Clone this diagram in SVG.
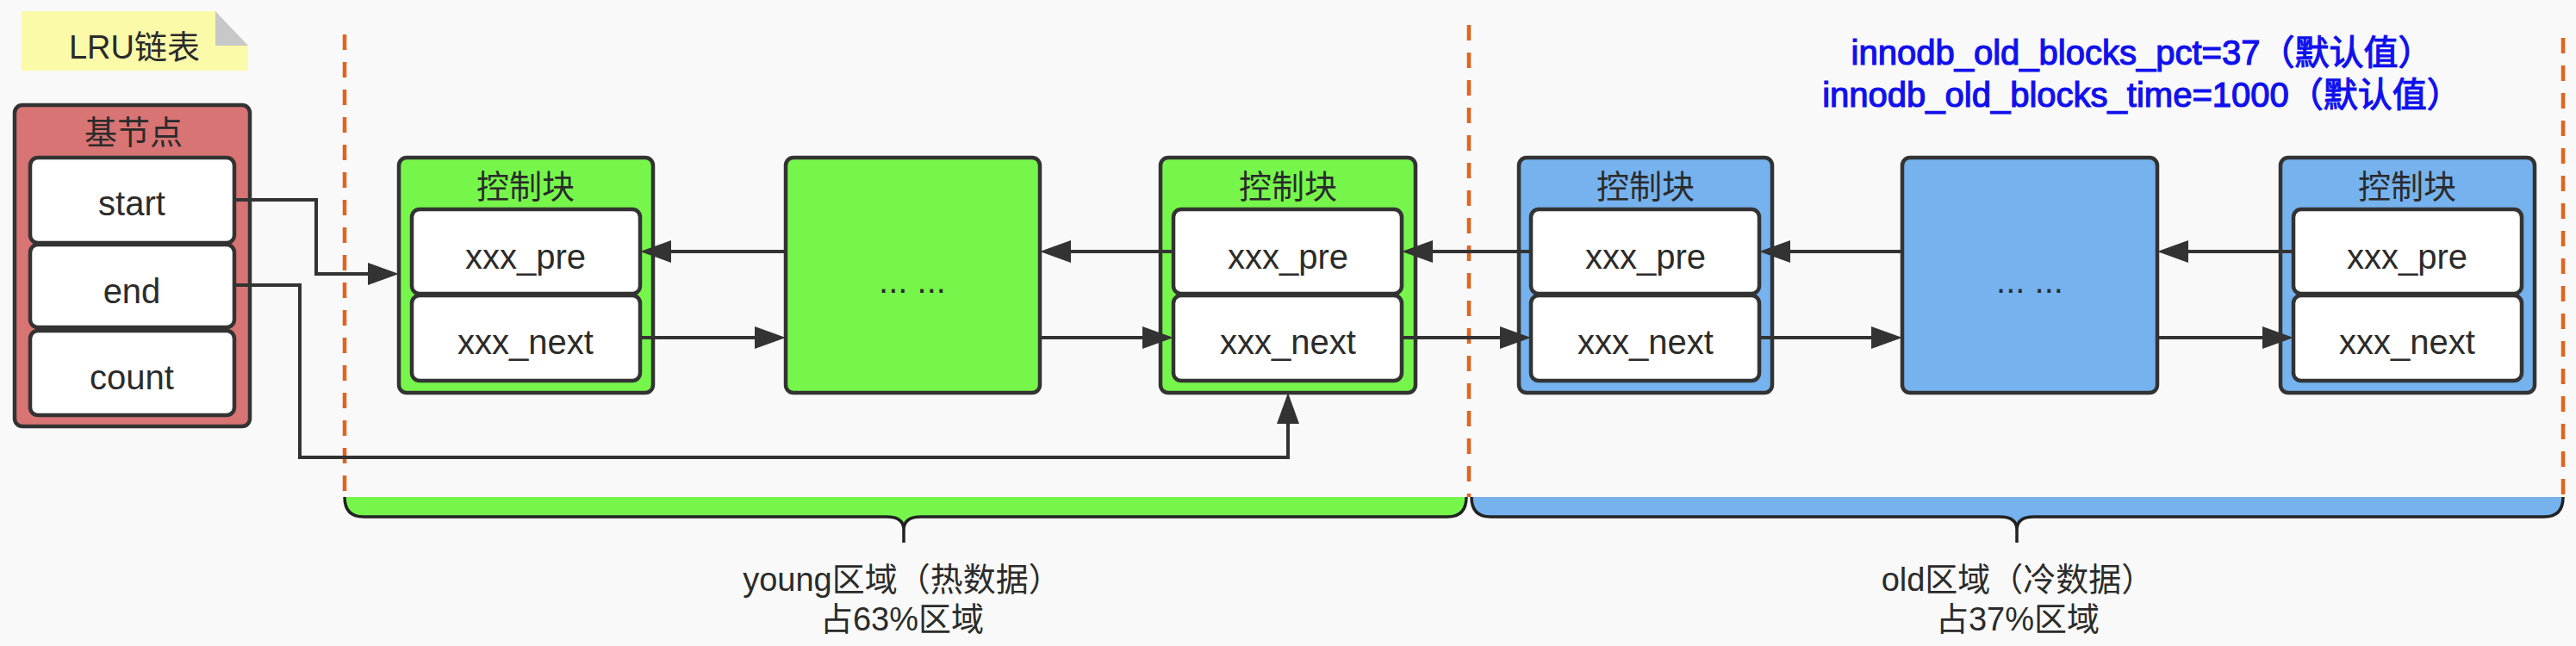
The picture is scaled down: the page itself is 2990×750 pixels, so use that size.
<svg xmlns="http://www.w3.org/2000/svg" width="2990" height="750" viewBox="0 0 2990 750">
<defs>
<style>
text{font-family:"Liberation Sans","Noto Sans CJK SC",sans-serif;fill:#2b2b2b;text-anchor:middle}
.lbl{font-size:40px}
.ttl{font-size:38px}
.outer{stroke:#333;stroke-width:4.5}
.green{fill:#76f64b}
.blue{fill:#75b2ee}
.red{fill:#d87474}
.inner{fill:#fff;stroke:#333;stroke-width:4.5}
.conn{fill:none;stroke:#333;stroke-width:4}
.dash{stroke:#e0631f;stroke-width:4.5;stroke-dasharray:18 14;fill:none}
.brace{fill:none;stroke:#222;stroke-width:3.5}
.param{font-size:40px;fill:#1010ee;stroke:#1010ee;stroke-width:1.2}
.zone{font-size:38px}
</style>
<marker id="arr" markerUnits="userSpaceOnUse" markerWidth="36" markerHeight="26" refX="6" refY="13" orient="auto">
<path d="M0,0 L36,13 L0,26 Z" fill="#333"/>
</marker>
</defs>
<rect width="2990" height="750" fill="#f9f9f9"/>

<g id="note">
<polygon points="25,13 250,13 288,53 288,82 25,82" fill="#fafaa8"/>
<polygon points="250,13 250,53 288,53" fill="#c8c8c8"/>
<text x="156" y="68" style="font-size:38px">LRU链表</text>
</g>

<g id="region-lines">
<line class="dash" x1="400" y1="40" x2="400" y2="577"/>
<line class="dash" x1="1705" y1="29" x2="1705" y2="577"/>
<line class="dash" x1="2975" y1="44" x2="2975" y2="577"/>
</g>

<g id="params">
<text class="param" x="2486" y="75">innodb_old_blocks_pct=37（默认值）</text>
<text class="param" x="2486" y="124">innodb_old_blocks_time=1000（默认值）</text>
</g>

<g id="base-node">
<rect class="outer red" x="17" y="122" width="273" height="373" rx="9"/>
<text class="ttl" x="155" y="167">基节点</text>
<rect class="inner" x="35" y="183" width="237" height="99" rx="9"/>
<rect class="inner" x="35" y="284" width="237" height="96" rx="9"/>
<rect class="inner" x="35" y="384" width="237" height="98" rx="9"/>
<text class="lbl" x="153" y="250">start</text>
<text class="lbl" x="153" y="352">end</text>
<text class="lbl" x="153" y="452">count</text>
</g>

<g id="young-block-1">
<rect class="outer green" x="463" y="183" width="295" height="273" rx="9"/>
<text class="ttl" x="610" y="230">控制块</text>
<rect class="inner" x="478" y="243" width="265" height="98" rx="9"/>
<rect class="inner" x="478" y="343" width="265" height="99" rx="9"/>
<text class="lbl" x="610" y="312">xxx_pre</text>
<text class="lbl" x="610" y="411">xxx_next</text>
</g>

<g id="young-middle">
<rect class="outer green" x="912" y="183" width="295" height="273" rx="9"/>
<text class="lbl" x="1059" y="340">... ...</text>
</g>

<g id="young-block-3">
<rect class="outer green" x="1347" y="183" width="296" height="273" rx="9"/>
<text class="ttl" x="1495" y="230">控制块</text>
<rect class="inner" x="1362" y="243" width="265" height="98" rx="9"/>
<rect class="inner" x="1362" y="343" width="265" height="99" rx="9"/>
<text class="lbl" x="1495" y="312">xxx_pre</text>
<text class="lbl" x="1495" y="411">xxx_next</text>
</g>

<g id="old-block-4">
<rect class="outer blue" x="1763" y="183" width="294" height="273" rx="9"/>
<text class="ttl" x="1910" y="230">控制块</text>
<rect class="inner" x="1777" y="243" width="265" height="98" rx="9"/>
<rect class="inner" x="1777" y="343" width="265" height="99" rx="9"/>
<text class="lbl" x="1910" y="312">xxx_pre</text>
<text class="lbl" x="1910" y="411">xxx_next</text>
</g>

<g id="old-middle">
<rect class="outer blue" x="2208" y="183" width="296" height="273" rx="9"/>
<text class="lbl" x="2356" y="340">... ...</text>
</g>

<g id="old-block-6">
<rect class="outer blue" x="2647" y="183" width="295" height="273" rx="9"/>
<text class="ttl" x="2794" y="230">控制块</text>
<rect class="inner" x="2662" y="243" width="265" height="98" rx="9"/>
<rect class="inner" x="2662" y="343" width="265" height="99" rx="9"/>
<text class="lbl" x="2794" y="312">xxx_pre</text>
<text class="lbl" x="2794" y="411">xxx_next</text>
</g>

<g id="connectors">
<path class="conn" d="M273,232 H367 V318 H433" marker-end="url(#arr)"/>
<path class="conn" d="M273,331 H348 V531 H1495 V486" marker-end="url(#arr)"/>
<path class="conn" d="M912,292 H773" marker-end="url(#arr)"/>
<path class="conn" d="M1362,292 H1237" marker-end="url(#arr)"/>
<path class="conn" d="M1777,292 H1657" marker-end="url(#arr)"/>
<path class="conn" d="M2208,292 H2072" marker-end="url(#arr)"/>
<path class="conn" d="M2662,292 H2534" marker-end="url(#arr)"/>
<path class="conn" d="M743,392 H882" marker-end="url(#arr)"/>
<path class="conn" d="M1207,392 H1332" marker-end="url(#arr)"/>
<path class="conn" d="M1627,392 H1747" marker-end="url(#arr)"/>
<path class="conn" d="M2042,392 H2178" marker-end="url(#arr)"/>
<path class="conn" d="M2504,392 H2632" marker-end="url(#arr)"/>
</g>

<g id="young-region">
<path class="green" d="M400,577 Q400,600 422,600 H1029 Q1049,600 1049,615 Q1049,600 1069,600 H1680 Q1702,600 1702,577 Z"/>
<path class="brace" d="M400,577 Q400,600 422,600 H1029 Q1049,600 1049,615 V630 M1049,615 Q1049,600 1069,600 H1680 Q1702,600 1702,577"/>
<text class="zone" x="1047" y="686">young区域（热数据）</text>
<text class="zone" x="1047" y="732">占63%区域</text>
</g>

<g id="old-region">
<path class="blue" d="M1708,577 Q1708,600 1730,600 H2321 Q2341,600 2341,615 Q2341,600 2361,600 H2953 Q2975,600 2975,577 Z"/>
<path class="brace" d="M1708,577 Q1708,600 1730,600 H2321 Q2341,600 2341,615 V630 M2341,615 Q2341,600 2361,600 H2953 Q2975,600 2975,577"/>
<text class="zone" x="2342" y="686">old区域（冷数据）</text>
<text class="zone" x="2342" y="732">占37%区域</text>
</g>
</svg>
